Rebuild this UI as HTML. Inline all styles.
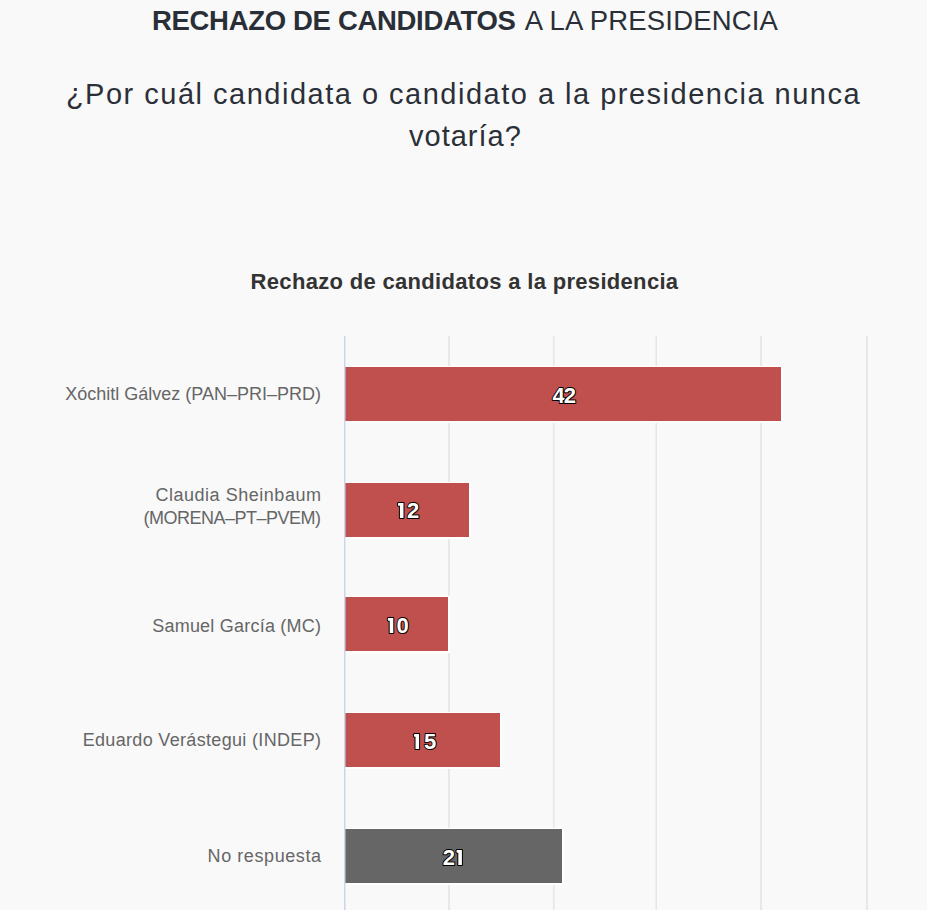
<!DOCTYPE html>
<html><head><meta charset="utf-8">
<style>
html,body{margin:0;padding:0;}
body{width:927px;height:910px;overflow:hidden;background:#f9f9f9;position:relative;font-family:"Liberation Sans",sans-serif;}
.t{position:absolute;white-space:nowrap;line-height:1;}
#title{left:152px;top:7px;font-size:27.5px;color:#2a2f37;letter-spacing:0.16px;}
#title b{letter-spacing:-0.32px;margin-right:3px;}
#q1{left:0;width:927px;text-align:center;top:80px;font-size:29px;color:#2b2f38;letter-spacing:1.5px;}
#q2{left:409px;top:122px;font-size:29px;color:#2b2f38;letter-spacing:1.0px;}
#ctitle{left:1px;width:927px;text-align:center;top:271px;font-size:22px;font-weight:bold;color:#333333;letter-spacing:0.32px;}
.lab{position:absolute;right:606px;white-space:nowrap;line-height:1;font-size:18px;color:#666666;text-align:right;}
.bar{position:absolute;left:344px;box-sizing:border-box;border:1px solid #fff;border-right-width:2px;border-bottom-width:2px;background:#c0504d;}
</style></head><body>
<div class="t" id="title"><b>RECHAZO DE CANDIDATOS</b> A LA PRESIDENCIA</div>
<div class="t" id="q1">¿Por cuál candidata o candidato a la presidencia nunca</div>
<div class="t" id="q2">votaría?</div>
<div class="t" id="ctitle">Rechazo de candidatos a la presidencia</div>

<svg width="927" height="910" style="position:absolute;left:0;top:0"><g fill="#e6e6e6">
<rect x="448" y="336" width="2" height="574" fill="#e8e8e8"/>
<rect x="553" y="336" width="1.5" height="574"/>
<rect x="655.5" y="336" width="1.5" height="574"/>
<rect x="760" y="336" width="2" height="574" fill="#e8e8e8"/>
<rect x="866" y="336" width="2" height="574" fill="#e8e8e8"/>
</g></svg>

<div class="bar" style="top:366px;width:439px;height:57px;"></div>
<div class="bar" style="top:482px;width:127px;height:57px;"></div>
<div class="bar" style="top:596px;width:106px;height:57px;"></div>
<div class="bar" style="top:712px;width:158px;height:57px;"></div>
<div class="bar" style="top:828px;width:220px;height:57px;background:#666666;"></div>

<svg width="927" height="910" style="position:absolute;left:0;top:0"><rect x="344" y="336" width="1.5" height="574" fill="#ccd6eb"/></svg>

<div class="lab" style="top:385px">Xóchitl Gálvez (PAN–PRI–PRD)</div>
<div class="lab" style="top:486px;letter-spacing:0.53px;margin-right:-0.53px">Claudia Sheinbaum</div>
<div class="lab" style="top:509px;letter-spacing:-0.5px;margin-right:0.5px">(MORENA–PT–PVEM)</div>
<div class="lab" style="top:617px;letter-spacing:0.22px;margin-right:-0.22px">Samuel García (MC)</div>
<div class="lab" style="top:731px;letter-spacing:0.33px;margin-right:-0.33px">Eduardo Verástegui (INDEP)</div>
<div class="lab" style="top:847px;letter-spacing:0.58px;margin-right:-0.58px">No respuesta</div>

<svg width="927" height="910" style="position:absolute;left:0;top:0;font-family:'Liberation Sans',sans-serif;font-weight:bold;font-size:22px">
<g fill="#fff" stroke="#000" stroke-width="2" stroke-linejoin="round" paint-order="stroke fill">
<text x="552.5" y="403">4</text><text x="563.8" y="403">2</text>
<path d="M397.9,503.7 Q397.9,503.0 398.7,503.0 L403.5,503.0 L403.5,518.0 L399.9,518.0 L399.9,505.8 L398.7,505.8 Q397.9,505.8 397.9,505.1 Z"/><text x="406.9" y="518">2</text>
<path d="M387.8,618.7 Q387.8,618.0 388.6,618.0 L393.3,618.0 L393.3,633.0 L389.7,633.0 L389.7,620.8 L388.6,620.8 Q387.8,620.8 387.8,620.1 Z"/><text x="396.5" y="633">0</text>
<path d="M413.9,734.7 Q413.9,734.0 414.7,734.0 L419.1,734.0 L419.1,749.0 L415.5,749.0 L415.5,736.8 L414.7,736.8 Q413.9,736.8 413.9,736.1 Z"/><text x="424" y="749">5</text>
<text x="442.7" y="865">2</text><path d="M456.5,850.7 Q456.5,850.0 457.3,850.0 L461.9,850.0 L461.9,865.0 L458.3,865.0 L458.3,852.8 L457.3,852.8 Q456.5,852.8 456.5,852.1 Z"/>
</g></svg>
</body></html>
